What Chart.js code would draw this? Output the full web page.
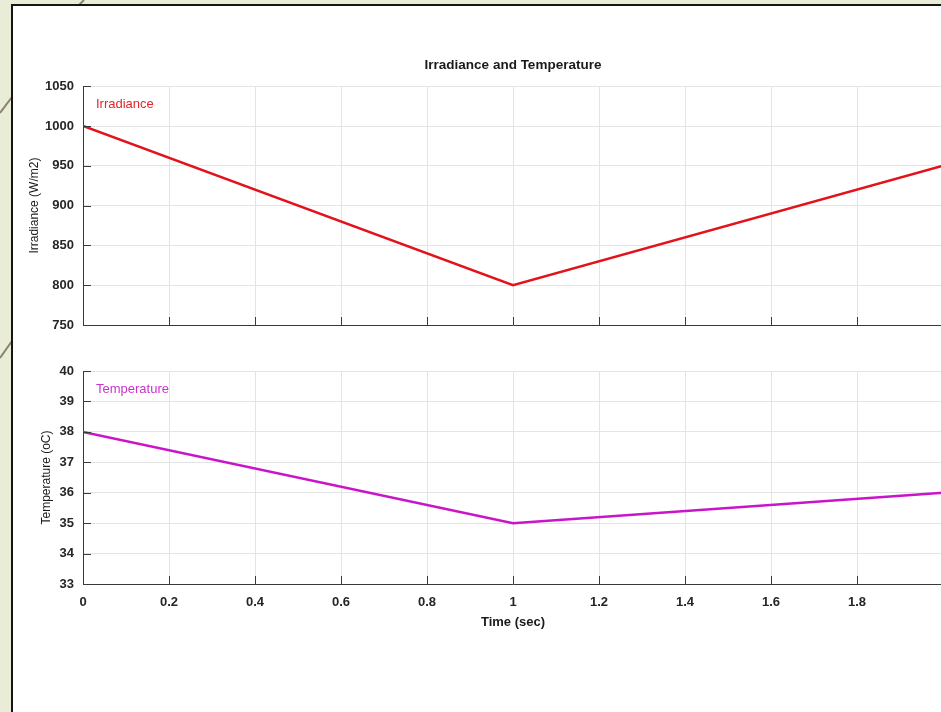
<!DOCTYPE html>
<html>
<head>
<meta charset="utf-8">
<script src="https://cdn.jsdelivr.net/npm/chart.js@4.4.1/dist/chart.umd.min.js"></script>
<style>
  html, body { margin: 0; padding: 0; width: 941px; height: 712px; overflow: hidden; background: #e9ecd7; }
  #panel { position: absolute; left: 11px; top: 4px; width: 1000px; height: 800px; background: #fff; border: 2px solid #151515; }
  #deco { position: absolute; left: 0; top: 0; }
  .plot { position: absolute; left: 0; }
</style>
</head>
<body>
<svg id="deco" width="941" height="712">
  <line x1="84" y1="0" x2="76" y2="8" stroke="#8c826b" stroke-width="2"/>
  <line x1="0" y1="113" x2="12" y2="97" stroke="#8c826b" stroke-width="2"/>
  <line x1="0" y1="358" x2="12" y2="341" stroke="#8c826b" stroke-width="2"/>
</svg>
<div id="panel"></div>
<div class="plot" style="top:0"><canvas id="topChart" width="1026" height="340"></canvas></div>
<div class="plot" style="top:340px"><canvas id="bottomChart" width="1026" height="372"></canvas></div>
<script>
(() => {
    'use strict'

    // Data
    const timeValues = [0, 1, 2]
    const irradianceValues = [1000, 800, 950]
    const temperatureValues = [38, 35, 36]
    const irradianceRange = [750, 1050, 50]
    const temperatureRange = [33, 40, 1]
    const timeRange = [0, 2, 0.2]

    const tickFont = { family: '"Liberation Sans", Arial, sans-serif', size: 13, weight: 'bold' }
    const gridColor = '#e4e4e4'
    const axisColor = '#3a3a3a'

    // MATLAB style inward tick marks along the left and bottom axes
    const inwardTicks = {
        id: 'inwardTicks',
        afterDraw(chart) {
            const { ctx, chartArea, scales } = chart
            ctx.save()
            ctx.strokeStyle = axisColor
            ctx.lineWidth = 1
            ctx.beginPath()
            scales.x.ticks.forEach(t => {
                const px = Math.round(scales.x.getPixelForValue(t.value)) + 0.5
                ctx.moveTo(px, chartArea.bottom)
                ctx.lineTo(px, chartArea.bottom - 8)
            })
            scales.y.ticks.forEach(t => {
                const py = Math.round(scales.y.getPixelForValue(t.value)) + 0.5
                ctx.moveTo(chartArea.left, py)
                ctx.lineTo(chartArea.left + 8, py)
            })
            ctx.stroke()
            ctx.restore()
        }
    }

    // series name written inside the plot, like the text legend in the picture
    const seriesLabel = {
        id: 'seriesLabel',
        afterDatasetsDraw(chart) {
            const { ctx, chartArea } = chart
            const ds = chart.data.datasets[0]
            ctx.save()
            ctx.font = '13px "Liberation Sans", Arial, sans-serif'
            ctx.fillStyle = ds.labelColor
            ctx.textBaseline = 'middle'
            ctx.fillText(ds.label, chartArea.left + 13, chartArea.top + 18)
            ctx.restore()
        }
    }

    const points = (xs, ys) => xs.map((x, i) => ({ x: x, y: ys[i] }))

    function makeOptions(range, yTitle, yTitlePad, showX, xHeight, padding, title) {
        return {
            responsive: false,
            animation: false,
            layout: { padding: padding },
            plugins: {
                legend: { display: false },
                tooltip: { enabled: false },
                title: title
            },
            elements: { point: { radius: 0 }, line: { tension: 0 } },
            scales: {
                x: {
                    type: 'linear',
                    min: timeRange[0],
                    max: timeRange[1],
                    grid: { color: gridColor, drawTicks: false },
                    border: { color: axisColor, width: 1 },
                    ticks: {
                        display: showX,
                        stepSize: timeRange[2],
                        padding: 11,
                        color: '#262626',
                        font: tickFont,
                        callback: v => (v >= timeRange[1] ? '' : String(Math.round(v * 10) / 10))
                    },
                    title: {
                        display: showX,
                        text: 'Time (sec)',
                        color: '#1a1a1a',
                        font: { family: '"Liberation Sans", Arial, sans-serif', size: 13, weight: 'bold' },
                        padding: { top: 0, bottom: 4 }
                    },
                    afterFit(scale) {
                        scale.height = xHeight
                        scale.paddingLeft = 0
                        scale.paddingRight = 0
                    }
                },
                y: {
                    min: range[0],
                    max: range[1],
                    grid: { color: gridColor, drawTicks: false },
                    border: { color: axisColor, width: 1 },
                    ticks: {
                        stepSize: range[2],
                        padding: 9,
                        color: '#262626',
                        font: tickFont,
                        callback: v => String(v)
                    },
                    title: {
                        display: true,
                        text: yTitle,
                        color: '#1a1a1a',
                        font: { family: '"Liberation Sans", Arial, sans-serif', size: 12 },
                        padding: { top: yTitlePad, bottom: 0 }
                    },
                    afterFit(scale) {
                        scale.width = 60
                        scale.paddingTop = 0
                        scale.paddingBottom = 0
                    }
                }
            }
        }
    }

    // Upper plot: irradiance
    new Chart(document.getElementById('topChart'), {
        type: 'line',
        data: {
            datasets: [{
                label: 'Irradiance',
                data: points(timeValues, irradianceValues),
                borderColor: '#e3121b',
                labelColor: '#e5232b',
                borderWidth: 2.5
            }]
        },
        options: makeOptions(irradianceRange, 'Irradiance (W/m2)', 4, false, 15,
            { top: 0, left: 23, right: 83, bottom: 0 },
            {
                display: true,
                fullSize: false,
                text: 'Irradiance and Temperature',
                color: '#1a1a1a',
                font: { family: '"Liberation Sans", Arial, sans-serif', size: 13.5, weight: 'bold' },
                padding: { top: 57, bottom: 13 }
            }),
        plugins: [inwardTicks, seriesLabel]
    })

    // Lower plot: temperature
    new Chart(document.getElementById('bottomChart'), {
        type: 'line',
        data: {
            datasets: [{
                label: 'Temperature',
                data: points(timeValues, temperatureValues),
                borderColor: '#c915c9',
                labelColor: '#cc33cc',
                borderWidth: 2.5
            }]
        },
        options: makeOptions(temperatureRange, 'Temperature (oC)', 16, true, 50,
            { top: 31, left: 23, right: 83, bottom: 78 },
            { display: false }),
        plugins: [inwardTicks, seriesLabel]
    })
})()
</script>
</body>
</html>
